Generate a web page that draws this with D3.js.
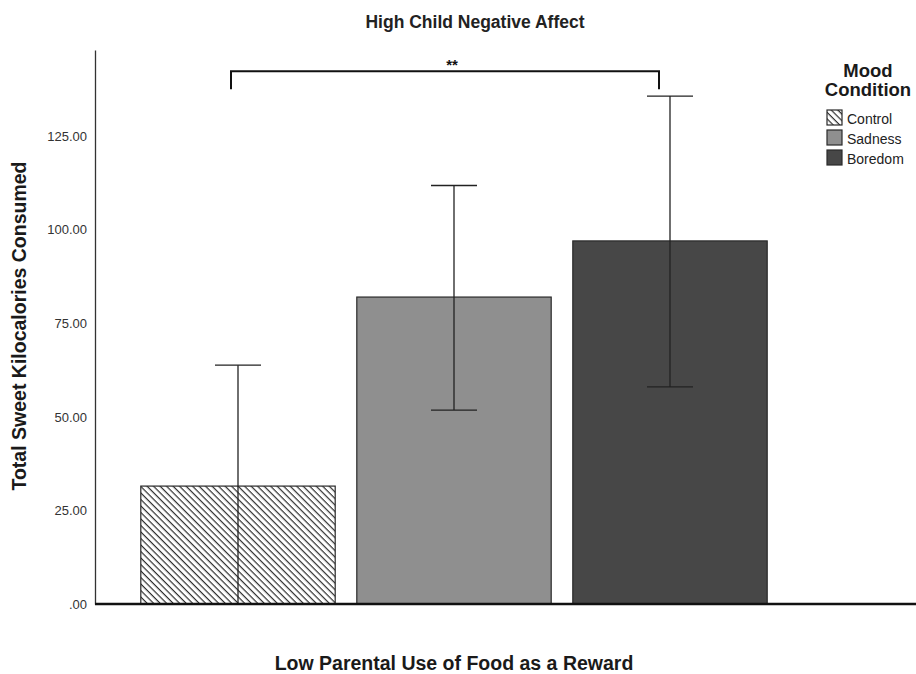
<!DOCTYPE html>
<html><head><meta charset="utf-8">
<script src="https://cdn.jsdelivr.net/npm/d3@7"></script>
<style>body{margin:0;background:#fff;} svg{display:block;font-family:Arial,"Liberation Sans",sans-serif;}</style>
</head><body>
<script>
const categories = ["Control", "Sadness", "Boredom"];
const means = [31.5, 82.0, 97.0];
const upper = [63.8, 111.8, 135.7];
const lower = [-0.8, 51.8, 58.0];
const fills = ["url(#hatch)", "#8f8f8f", "#474747"];
const yTicks = [0, 25, 50, 75, 100, 125];
const tickLabels = [".00", "25.00", "50.00", "75.00", "100.00", "125.00"];

const W = 916, H = 674;
const svg = d3.select("body").append("svg").attr("width", W).attr("height", H);

const defs = svg.append("defs");
const pat = defs.append("pattern").attr("id", "hatch").attr("patternUnits", "userSpaceOnUse")
  .attr("width", 4.6).attr("height", 4.6).attr("patternTransform", "rotate(45)");
pat.append("rect").attr("width", 4.6).attr("height", 4.6).attr("fill", "#fff");
pat.append("line").attr("x1", 0).attr("y1", 0).attr("x2", 4.6).attr("y2", 0)
  .attr("stroke", "#2e2e2e").attr("stroke-width", 2.4);

const y = d3.scaleLinear().domain([0, 148]).range([604, 50]).clamp(true);
const x = d3.scaleBand().domain(categories).range([130, 778]).paddingInner(0.1).paddingOuter(0.05);

// y axis
const yAxis = d3.axisLeft(y).tickValues(yTicks).tickSize(0).tickPadding(8)
  .tickFormat((d, i) => tickLabels[i]);
const ga = svg.append("g").attr("transform", "translate(95,0)").call(yAxis);
ga.select(".domain").attr("stroke", "#333").attr("stroke-width", 1.3);
ga.selectAll("text").attr("font-size", 13).attr("fill", "#333").attr("dy", "0.32em")
  .style("font-family", "Arial, 'Liberation Sans', sans-serif");

// bars
svg.selectAll("rect.bar").data(categories).join("rect").attr("class", "bar")
  .attr("x", d => x(d)).attr("width", x.bandwidth())
  .attr("y", (d, i) => y(means[i])).attr("height", (d, i) => y(0) - y(means[i]))
  .attr("fill", (d, i) => fills[i]).attr("stroke", "#2a2a2a").attr("stroke-width", 1.2);

// error bars
const cap = 23;
categories.forEach((c, i) => {
  const cx = x(c) + x.bandwidth() / 2;
  svg.append("line").attr("x1", cx).attr("x2", cx).attr("y1", y(upper[i])).attr("y2", y(lower[i]))
    .attr("stroke", "#222").attr("stroke-width", 1.3);
  svg.append("line").attr("x1", cx - cap).attr("x2", cx + cap).attr("y1", y(upper[i])).attr("y2", y(upper[i]))
    .attr("stroke", "#222").attr("stroke-width", 1.3);
  if (lower[i] > 0)
    svg.append("line").attr("x1", cx - cap).attr("x2", cx + cap).attr("y1", y(lower[i])).attr("y2", y(lower[i]))
      .attr("stroke", "#222").attr("stroke-width", 1.3);
});

// baseline
svg.append("line").attr("x1", 95).attr("x2", W).attr("y1", y(0)).attr("y2", y(0))
  .attr("stroke", "#111").attr("stroke-width", 2.6);

// significance bracket
const bx1 = x("Control") + x.bandwidth() / 2 - 7, bx2 = x("Boredom") + x.bandwidth() / 2 - 11;
const byTop = y(142.3), byBot = y(137.5);
svg.append("path").attr("d", `M${bx1},${byBot}V${byTop}H${bx2}V${byBot}`)
  .attr("fill", "none").attr("stroke", "#111").attr("stroke-width", 2);
svg.append("text").attr("x", (bx1 + bx2) / 2 + 7).attr("y", byTop - 1).attr("text-anchor", "middle")
  .attr("font-size", 15).attr("font-weight", "bold").attr("fill", "#111").text("**");

// title
svg.append("text").attr("x", 475).attr("y", 28).attr("text-anchor", "middle")
  .attr("font-size", 17.5).attr("font-weight", "bold").attr("fill", "#222").text("High Child Negative Affect");

// axis titles
svg.append("text").attr("x", 454).attr("y", 670).attr("text-anchor", "middle")
  .attr("font-size", 19.5).attr("font-weight", "bold").attr("fill", "#1a1a1a")
  .text("Low Parental Use of Food as a Reward");
svg.append("text").attr("transform", "translate(26,326) rotate(-90)").attr("text-anchor", "middle")
  .attr("font-size", 19.5).attr("font-weight", "bold").attr("fill", "#1a1a1a")
  .text("Total Sweet Kilocalories Consumed");

// legend
const lg = svg.append("g");
lg.append("text").attr("x", 868).attr("y", 77).attr("text-anchor", "middle")
  .attr("font-size", 18.5).attr("font-weight", "bold").attr("fill", "#1a1a1a").text("Mood");
lg.append("text").attr("x", 868).attr("y", 96).attr("text-anchor", "middle")
  .attr("font-size", 18.5).attr("font-weight", "bold").attr("fill", "#1a1a1a").text("Condition");
categories.forEach((c, i) => {
  const yy = 110 + i * 20;
  lg.append("rect").attr("x", 827).attr("y", yy).attr("width", 15).attr("height", 15)
    .attr("fill", fills[i]).attr("stroke", "#2a2a2a").attr("stroke-width", 1.2);
  lg.append("text").attr("x", 847).attr("y", yy + 14).attr("font-size", 14).attr("fill", "#222").text(c);
});
</script>
</body></html>
